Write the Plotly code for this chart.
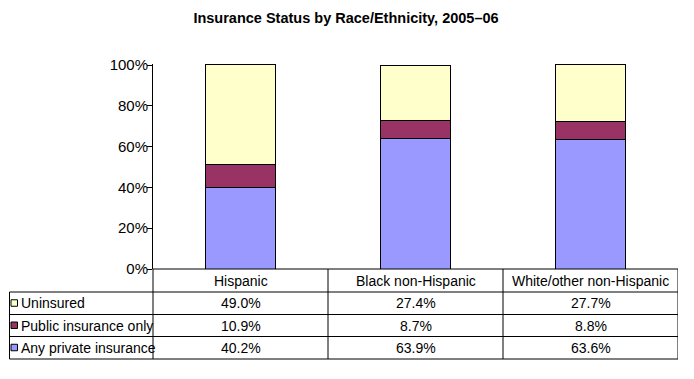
import plotly.graph_objects as go

categories = ["Hispanic", "Black non-Hispanic", "White/other non-Hispanic"]
series_names = ["Uninsured", "Public insurance only", "Any private insurance"]
uninsured = [49.0, 27.4, 27.7]
public_only = [10.9, 8.7, 8.8]
private_ins = [40.2, 63.9, 63.6]
series_colors = ["#FFFFCC", "#993366", "#9999FF"]
y_tick_vals = [0, 20, 40, 60, 80, 100]
y_tick_text = ["0%", "20%", "40%", "60%", "80%", "100%"]
title_text = "Insurance Status by Race/Ethnicity, 2005\u201306"

W, H = 694, 379
L, R, T, B = 153, 678, 64, 269  # plot area in pixels
FONT = "Liberation Sans, Arial, sans-serif"


def xp(px):
    return (px - L) / (R - L)


def yp(py):
    return (B - py) / (B - T)


fig = go.Figure()
# stacked from bottom: private, public, uninsured
stack = [(series_names[2], private_ins, series_colors[2]),
         (series_names[1], public_only, series_colors[1]),
         (series_names[0], uninsured, series_colors[0])]
for name, vals, col in stack:
    fig.add_trace(go.Bar(
        x=categories, y=vals, name=name, width=0.4,
        marker=dict(color=col, line=dict(color="black", width=1)),
        showlegend=False, hoverinfo="skip"))

shapes = []
line = dict(color="black", width=1)
row_lines = [292, 314.5, 336.5, 359]
for py in row_lines:
    shapes.append(dict(type="line", xref="paper", yref="paper",
                       x0=xp(9.5), x1=xp(678), y0=yp(py), y1=yp(py), line=line))
shapes.append(dict(type="line", xref="paper", yref="paper",
                   x0=xp(9.5), x1=xp(9.5), y0=yp(292), y1=yp(359), line=line))
shapes.append(dict(type="line", xref="paper", yref="paper",
                   x0=0, x1=0, y0=0, y1=yp(359), line=line))
for i in range(len(categories)):
    shapes.append(dict(type="line", xref="x", yref="paper",
                       x0=i + 0.5, x1=i + 0.5, y0=0, y1=yp(359), line=line))
shapes.append(dict(type="line", xref="paper", yref="paper",
                   x0=0, x1=1, y0=0, y1=0, line=line))

annotations = []
row_centers = [(row_lines[i] + row_lines[i + 1]) / 2 for i in range(3)]
header_center = (B + row_lines[0]) / 2
tfont = dict(family=FONT, size=14, color="black")
for c in categories:
    annotations.append(dict(x=c, xref="x", y=yp(header_center), yref="paper",
                            text=c, showarrow=False, font=tfont,
                            xanchor="center", yanchor="middle"))
table_rows = [uninsured, public_only, private_ins]
for r, (name, vals, col) in enumerate(zip(series_names, table_rows, series_colors)):
    cy = row_centers[r]
    shapes.append(dict(type="rect", xref="paper", yref="paper",
                       x0=xp(11), x1=xp(17.5), y0=yp(cy - 3.5), y1=yp(cy + 3),
                       fillcolor=col, line=dict(color="black", width=1)))
    annotations.append(dict(x=xp(18.5), xref="paper", y=yp(cy), yref="paper",
                            text=name, showarrow=False, font=tfont,
                            xanchor="left", yanchor="middle"))
    for c, v in zip(categories, vals):
        annotations.append(dict(x=c, xref="x", y=yp(cy), yref="paper",
                                text=f"{v:.1f}%", showarrow=False, font=tfont,
                                xanchor="center", yanchor="middle"))

fig.update_layout(
    width=W, height=H,
    margin=dict(l=L, r=W - R, t=T, b=H - B, pad=0),
    barmode="stack",
    paper_bgcolor="white", plot_bgcolor="white",
    title=dict(text=title_text, x=346 / W, xanchor="center",
               y=1 - 18 / H, yanchor="middle",
               font=dict(family=FONT, size=14.5, color="black", weight="bold")),
    xaxis=dict(range=[-0.5, 2.5], showticklabels=False, ticks="",
               showgrid=False, zeroline=False, showline=False),
    yaxis=dict(range=[0, 100.5], tickvals=y_tick_vals, ticktext=y_tick_text,
               ticks="outside", ticklen=5, tickcolor="black", tickwidth=1,
               ticklabelstandoff=-4,
               showgrid=False, zeroline=False, showline=True,
               linecolor="black", linewidth=1,
               tickfont=dict(family=FONT, size=15, color="black")),
    shapes=shapes, annotations=annotations,
)

fig.write_html("out.html", config={"displayModeBar": False},
               post_script="document.body.style.margin='0px';")
